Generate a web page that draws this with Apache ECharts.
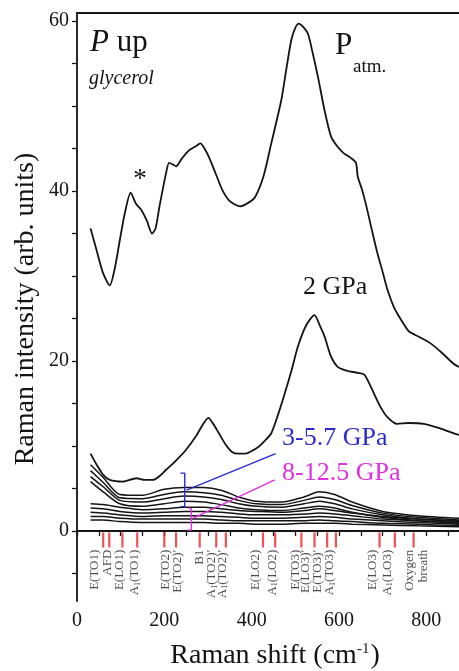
<!DOCTYPE html>
<html><head><meta charset="utf-8">
<script src="https://cdn.jsdelivr.net/npm/echarts@6/dist/echarts.min.js"></script>
<style>html,body{margin:0;padding:0;background:#fff}#c{width:459px;height:671px}</style>
</head><body><div id="c"></div>
<script>
// ---- data ----
const xLabelValues = [0, 200, 400, 600, 800];
const xTickValues = [0,50,100,150,200,250,300,350,400,450,500,550,600,650,700,750,800,850];
const yLabelValues = [0, 20, 40, 60];
const yTickValues = [-5,0,5,10,15,20,25,30,35,40,45,50,55,60];

const patm = [[31,35.6],[45,33.0],[60,30.3],[75,28.9],[87,31.0],[98,34.2],[110,37.5],[123,39.8],[135,38.5],[147,37.8],[160,36.5],[172,35.0],[180,35.6],[189,38.2],[204,42.1],[211,43.3],[220,43.1],[227,42.9],[240,43.8],[257,44.8],[270,45.2],[283,45.6],[292,45.0],[302,44.0],[318,42.0],[333,40.1],[350,38.8],[374,38.2],[392,38.6],[408,39.3],[427,41.7],[445,45.6],[468,50.7],[480,54.5],[491,57.8],[500,59.2],[508,59.7],[518,59.3],[529,58.5],[540,56.2],[552,53.4],[567,49.5],[582,46.4],[597,45.2],[612,44.4],[627,43.9],[639,43.3],[643,41.7],[652,40.3],[661,38.6],[675,35.5],[688,32.7],[700,30.5],[711,28.4],[726,26.3],[738,25.2],[749,24.3],[760,23.5],[785,22.8],[809,22.1],[835,21.0],[862,19.7],[875,19.3]];

const gpa2 = [[31,9.1],[45,7.8],[60,6.6],[75,6.0],[105,5.8],[136,6.2],[155,6.0],[174,6.0],[190,6.5],[204,7.2],[225,8.2],[249,9.5],[272,11.1],[288,12.5],[301,13.3],[312,12.6],[325,11.5],[340,10.2],[355,9.3],[370,9.1],[386,9.1],[400,9.4],[416,9.9],[430,10.6],[445,11.5],[460,13.6],[476,16.2],[492,19.0],[506,21.7],[525,24.2],[544,25.4],[556,24.2],[567,22.9],[582,20.5],[597,19.3],[615,18.9],[643,18.6],[658,18.4],[670,17.3],[680,16.2],[695,14.6],[711,13.4],[733,12.6],[760,12.7],[794,12.6],[830,12.1],[862,11.5],[875,11.3]];

const bundleX = [31, 60, 98, 150, 200, 245, 290, 330, 370, 410, 470, 520, 555, 590, 630, 700, 780, 875];
// 3-5.7 GPa spectra
const u1 = [7.8, 6.3, 4.3, 4.2, 4.9, 5.1, 5.1, 4.8, 4.0, 3.5, 3.4, 4.0, 4.6, 4.3, 3.4, 2.3, 1.8, 1.5];
const u2 = [7.1, 5.7, 3.9, 3.8, 4.3, 4.6, 4.5, 4.2, 3.6, 3.2, 3.1, 3.6, 4.0, 3.7, 3.0, 2.1, 1.6, 1.3];
const u3 = [6.4, 5.2, 3.6, 3.4, 3.8, 4.1, 4.0, 3.7, 3.2, 2.9, 2.8, 3.2, 3.5, 3.2, 2.6, 1.9, 1.4, 1.1];
const u4 = [5.8, 4.6, 3.2, 2.9, 3.2, 3.5, 3.4, 3.1, 2.7, 2.5, 2.4, 2.7, 2.9, 2.7, 2.2, 1.6, 1.2, 0.9];
// 8-12.5 GPa spectra
const l1 = [3.2, 3.1, 2.8, 2.5, 2.6, 2.8, 2.8, 2.6, 2.4, 2.3, 2.2, 2.4, 2.6, 2.4, 2.1, 1.7, 1.4, 1.2];
const l2 = [2.7, 2.6, 2.3, 2.1, 2.2, 2.3, 2.3, 2.2, 2.0, 1.9, 1.9, 2.0, 2.1, 2.0, 1.8, 1.4, 1.2, 1.0];
const l3 = [2.2, 2.1, 1.9, 1.7, 1.8, 1.8, 1.8, 1.7, 1.6, 1.5, 1.5, 1.6, 1.7, 1.6, 1.4, 1.2, 1.0, 0.8];
const l4 = [1.7, 1.7, 1.5, 1.4, 1.4, 1.4, 1.4, 1.3, 1.2, 1.2, 1.2, 1.2, 1.3, 1.2, 1.1, 0.9, 0.8, 0.6];
const l5 = [1.3, 1.3, 1.1, 1.0, 1.0, 1.0, 1.0, 0.9, 0.9, 0.8, 0.8, 0.9, 0.9, 0.9, 0.8, 0.7, 0.6, 0.5];

const modeMarkX = [60, 74, 104, 138, 200, 227, 281, 319, 341, 426, 454, 514, 544, 573, 593, 693, 728, 771];
const modeLabelX = [41, 69.5, 97, 132, 203, 230, 280, 308, 333, 408, 447, 501, 524, 551, 579, 677, 711, 777];
const modeNames = ['E(TO1)', 'AFD', 'E(LO1)', 'A{s|1}(TO1)', 'E(TO2)', 'E(TO2)\u2032', 'B1', 'A{s|1}(TO2)\u2032', 'A{s|1}(TO2)\u2032', 'E(LO2)', 'A{s|1}(LO2)', 'E(TO3)', 'E(LO3)\u2032', 'E(TO3)\u2032', 'A{s|1}(TO3)', 'E(LO3)', 'A{s|1}(LO3)', 'Oxygen\nbreath'];
const modeMarkY = -1.06;
const modeLabelY = -2.2;

const bracketBlue = [[237, 6.8], [246.8, 6.8], [246.8, 2.86], [237, 2.86]];
const pointerBlue = [[251, 4.8], [455, 9.1]];
const bracketMagenta = [[256, 2.7], [262, 2.6], [262, 0.1], [253, 0.1]];
const pointerMagenta = [[266, 1.5], [453, 6.0]];

// ---- chart ----
const FONT = '"Liberation Serif", "DejaVu Serif", serif';
const INK = '#141414';
const chart = echarts.init(document.getElementById('c'), null, {renderer: 'canvas'});
const zip = (xs, ys) => xs.map((x, i) => [x, ys[i]]);
const spec = (name, data, w) => ({
  name, type: 'line', data, showSymbol: false, smooth: 0.25, silent: true,
  lineStyle: {color: INK, width: w}, z: 3
});
const anno = (data, color) => ({
  type: 'line', data, showSymbol: false, silent: true,
  lineStyle: {color, width: 1.4}, z: 4
});

chart.setOption({
  animation: false,
  backgroundColor: '#fff',
  grid: {left: 77, right: -2, top: 13, bottom: 70},
  xAxis: [{
    type: 'value', min: 0, max: 875, position: 'bottom',
    axisLine: {lineStyle: {color: INK, width: 1.8}},
    axisTick: {customValues: xTickValues, length: 5, lineStyle: {color: INK, width: 1.3}},
    axisLabel: {customValues: xLabelValues, margin: 10, fontFamily: FONT, fontSize: 20, color: INK},
    splitLine: {show: false}
  }, {
    type: 'value', min: 0, max: 875, position: 'top',
    axisLine: {show: true, lineStyle: {color: INK, width: 1.8}},
    axisTick: {show: false}, axisLabel: {show: false}, splitLine: {show: false}
  }],
  yAxis: {
    type: 'value', min: -8.24, max: 60.94,
    axisLine: {show: true, lineStyle: {color: INK, width: 1.8}},
    axisTick: {show: true, customValues: yTickValues, length: 5, lineStyle: {color: INK, width: 1.3}},
    axisLabel: {customValues: yLabelValues, margin: 8, fontFamily: FONT, fontSize: 20, color: INK},
    splitLine: {show: false}
  },
  series: [
    spec('Patm', patm, 1.8),
    spec('2 GPa', gpa2, 1.8),
    spec('u1', zip(bundleX, u1), 1.5),
    spec('u2', zip(bundleX, u2), 1.5),
    spec('u3', zip(bundleX, u3), 1.5),
    spec('u4', zip(bundleX, u4), 1.5),
    spec('l1', zip(bundleX, l1), 1.5),
    spec('l2', zip(bundleX, l2), 1.5),
    spec('l3', zip(bundleX, l3), 1.5),
    spec('l4', zip(bundleX, l4), 1.5),
    spec('l5', zip(bundleX, l5), 1.5),
    anno(bracketBlue, '#2a2ad0'),
    anno(pointerBlue, '#2a2ad0'),
    anno(bracketMagenta, '#e030e0'),
    anno(pointerMagenta, '#e030e0'),
    {
      type: 'scatter', silent: true, symbol: 'rect', symbolSize: [2.2, 15],
      itemStyle: {color: '#e8262a'},
      data: modeMarkX.map(x => [x, modeMarkY]), z: 5
    },
    {
      type: 'scatter', silent: true, symbolSize: 0,
      data: modeLabelX.map((x, i) => [x, modeLabelY, modeNames[i]]),
      label: {
        show: true, position: 'inside', rotate: 90, align: 'right', verticalAlign: 'middle',
        formatter: p => p.data[2], fontFamily: FONT, fontSize: 13, color: '#1e1e1e', lineHeight: 14,
        rich: {s: {fontFamily: FONT, fontSize: 8, color: '#1e1e1e', verticalAlign: 'bottom', lineHeight: 14}}
      }
    }
  ],
  graphic: [
    {type: 'text', x: 90, y: 42.5, style: {text: '{i|P} up', font: '31px ' + FONT, fill: INK, verticalAlign: 'middle',
      rich: {i: {fontStyle: 'italic', fontSize: 31, fontFamily: FONT, fill: INK}}}},
    {type: 'text', x: 89, y: 79, style: {text: 'glycerol', font: 'italic 20px ' + FONT, fill: INK, verticalAlign: 'middle'}},
    {type: 'text', x: 335, y: 46, style: {text: 'P', font: '31px ' + FONT, fill: INK, verticalAlign: 'middle'}},
    {type: 'text', x: 353, y: 67, style: {text: 'atm.', font: '19px ' + FONT, fill: INK, verticalAlign: 'middle'}},
    {type: 'text', x: 140, y: 180, style: {text: '*', font: '27px ' + FONT, fill: INK, align: 'center', verticalAlign: 'middle'}},
    {type: 'text', x: 303, y: 287, style: {text: '2 GPa', font: '26px ' + FONT, fill: INK, verticalAlign: 'middle'}},
    {type: 'text', x: 282, y: 438, style: {text: '3-5.7 GPa', font: '26px ' + FONT, fill: '#2a2ad0', verticalAlign: 'middle'}},
    {type: 'text', x: 282, y: 473, style: {text: '8-12.5 GPa', font: '26px ' + FONT, fill: '#e030e0', verticalAlign: 'middle'}},
    {type: 'text', x: 26, y: 309, rotation: Math.PI / 2,
      style: {text: 'Raman intensity (arb. units)', font: '28px ' + FONT, fill: INK, align: 'center', verticalAlign: 'middle'}},
    {type: 'text', x: 275, y: 656, style: {text: 'Raman shift (cm{s|-1})', font: '28px ' + FONT, fill: INK, align: 'center', verticalAlign: 'middle',
      rich: {s: {fontSize: 15, fontFamily: FONT, fill: INK, verticalAlign: 'top', padding: [0, 1, 0, 0]}}}}
  ]
});
</script></body></html>
